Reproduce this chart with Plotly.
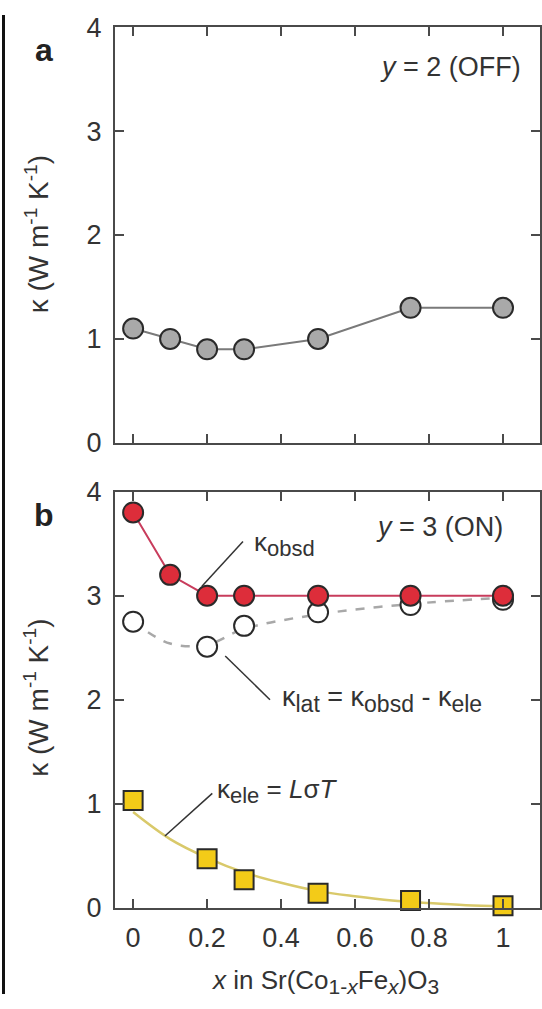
import plotly.graph_objects as go

# ---- data ----
x_a = [0, 0.1, 0.2, 0.3, 0.5, 0.75, 1.0]
kappa_off = [1.10, 1.00, 0.90, 0.90, 1.00, 1.30, 1.30]

x_obsd = [0, 0.1, 0.2, 0.3, 0.5, 0.75, 1.0]
kappa_obsd = [3.80, 3.20, 3.00, 3.00, 3.00, 3.00, 3.00]

x_lat = [0, 0.2, 0.3, 0.5, 0.75, 1.0]
kappa_lat = [2.75, 2.51, 2.71, 2.84, 2.91, 2.96]

x_lat_line = [0, 0.1, 0.2, 0.3, 0.5, 0.75, 1.0]
kappa_lat_line = [2.75, 2.54, 2.53, 2.68, 2.82, 2.92, 2.98]

x_ele = [0, 0.2, 0.3, 0.5, 0.75, 1.0]
kappa_ele = [1.03, 0.47, 0.27, 0.14, 0.07, 0.02]

x_fit = [0, 0.1, 0.2, 0.3, 0.4, 0.5, 0.6, 0.7, 0.8, 0.9, 1.0]
kappa_fit = [0.92, 0.66, 0.48, 0.34, 0.24, 0.16, 0.11, 0.07, 0.045, 0.025, 0.015]

x_ticks = [0, 0.2, 0.4, 0.6, 0.8, 1.0]
x_ticklabels = ["0", "0.2", "0.4", "0.6", "0.8", "1"]
y_ticks = [0, 1, 2, 3, 4]

FONT = "Arial, Liberation Sans, Helvetica, sans-serif"
AX = "#4a4a4a"
EDGE = "#2a2a2a"
TXT = "#333333"
W, H = 542, 1009


def fy(screen_px):
    """paper fraction for a vertical screen position (compensates page capture offset)"""
    return 1 - ((screen_px - 7.6) / 0.984) / H


def fx(px):
    return px / W


def sub(s, size=22):
    return f"<sub><span style='font-size:{size}px'>{s}</span></sub>"


def sup(s, size=19):
    return f"<sup><span style='font-size:{size}px'>{s}</span></sup>"


fig = go.Figure()

# panel a
fig.add_trace(go.Scatter(x=x_a, y=kappa_off, mode="lines+markers",
                         line=dict(color="#7a7a7a", width=2),
                         marker=dict(symbol="circle", size=20, color="#a9a9a9",
                                     line=dict(color=EDGE, width=2)),
                         xaxis="x", yaxis="y", cliponaxis=False, showlegend=False))

# panel b
fig.add_trace(go.Scatter(x=x_fit, y=kappa_fit, mode="lines", line_shape="spline",
                         line=dict(color="#d9c96a", width=2.5),
                         xaxis="x2", yaxis="y2", showlegend=False))
fig.add_trace(go.Scatter(x=x_lat_line, y=kappa_lat_line, mode="lines", line_shape="spline",
                         line=dict(color="#a8a8a8", width=2.5, dash="dash"),
                         xaxis="x2", yaxis="y2", showlegend=False))
fig.add_trace(go.Scatter(x=x_lat, y=kappa_lat, mode="markers",
                         marker=dict(symbol="circle", size=20, color="white",
                                     line=dict(color=EDGE, width=2)),
                         xaxis="x2", yaxis="y2", cliponaxis=False, showlegend=False))
fig.add_trace(go.Scatter(x=x_obsd, y=kappa_obsd, mode="lines+markers",
                         line=dict(color="#c83c5c", width=2),
                         marker=dict(symbol="circle", size=20, color="#dd2d3a",
                                     line=dict(color=EDGE, width=2)),
                         xaxis="x2", yaxis="y2", cliponaxis=False, showlegend=False))
fig.add_trace(go.Scatter(x=x_ele, y=kappa_ele, mode="markers",
                         marker=dict(symbol="square", size=19, color="#f3cb18",
                                     line=dict(color=EDGE, width=2)),
                         xaxis="x2", yaxis="y2", cliponaxis=False, showlegend=False))

common_x = dict(range=[-0.049, 1.1], tickvals=x_ticks, ticktext=x_ticklabels,
                ticks="inside", ticklen=9, tickwidth=2, tickcolor=AX,
                showline=True, linecolor=AX, linewidth=2, mirror="ticks",
                showgrid=False, zeroline=False, ticklabelstandoff=5,
                tickfont=dict(family=FONT, size=27, color=TXT))
common_y = dict(range=[0, 4], tickvals=y_ticks, ticks="inside", ticklen=9, tickwidth=2,
                tickcolor=AX, showline=True, linecolor=AX, linewidth=2, mirror="ticks",
                showgrid=False, zeroline=False, ticklabelstandoff=6,
                tickfont=dict(family=FONT, size=27, color=TXT))

xdom = [fx(115), fx(540)]
fig.update_layout(
    width=W, height=H,
    margin=dict(l=0, r=0, t=0, b=0),
    paper_bgcolor="white", plot_bgcolor="white",
    xaxis=dict(domain=xdom, anchor="y", showticklabels=False, **common_x),
    yaxis=dict(domain=[fy(441.5), fy(20)], anchor="x", **common_y),
    xaxis2=dict(domain=xdom, anchor="y2", showticklabels=True, **common_x),
    yaxis2=dict(domain=[fy(913), fy(491)], anchor="x2", **common_y),
    font=dict(family=FONT, color=TXT),
)

ann = []
# panel letters
for letter, py in (("a", 43), ("b", 515)):
    ann.append(dict(text=f"<b>{letter}</b>", x=fx(44), y=fy(py),
                    xref="paper", yref="paper", showarrow=False,
                    font=dict(family=FONT, size=32, color="#222"),
                    xanchor="center", yanchor="middle"))

texts = [
    dict(text="<i>y</i> = 2 (OFF)", x=1.055, y=3.62, xref="x", yref="y", xanchor="right",
         size=27),
    dict(text="<i>y</i> = 3 (ON)", x=1.005, y=3.66, xref="x2", yref="y2", xanchor="right",
         size=27),
    dict(text="κ" + sub("obsd"), x=0.322, y=3.5, xref="x2", yref="y2", xanchor="left",
         size=26),
    dict(text="κ" + sub("lat", 23) + " = κ" + sub("obsd", 23) + " - κ" + sub("ele", 23),
         x=0.397, y=2.0, xref="x2", yref="y2", xanchor="left", size=27),
    dict(text="κ" + sub("ele") + " = <i>L</i>σ<i>T</i>", x=0.222, y=1.12, xref="x2",
         yref="y2", xanchor="left", size=26),
]
for t in texts:
    size = t.pop("size")
    t.update(showarrow=False, font=dict(family=FONT, size=size, color=TXT), yanchor="middle")
    ann.append(t)

# axis titles
ytitle = "κ (W m" + sup("-1") + " K" + sup("-1") + ")"
for py in (230, 700):
    ann.append(dict(text=ytitle, x=fx(37), y=fy(py), xref="paper", yref="paper",
                    textangle=-90, showarrow=False,
                    font=dict(family=FONT, size=28, color=TXT),
                    xanchor="center", yanchor="middle"))
ann.append(dict(text="<i>x</i> in Sr(Co" + sub("1-<i>x</i>", 21) + "Fe" + sub("<i>x</i>", 21)
                + ")O" + sub("3", 21),
                x=fx(325), y=fy(988), xref="paper", yref="paper",
                showarrow=False, font=dict(family=FONT, size=26, color=TXT),
                xanchor="center", yanchor="middle"))
fig.update_layout(annotations=ann)

shapes = [
    dict(type="line", xref="x2", yref="y2", x0=0.186, y0=3.09, x1=0.297, y1=3.52,
         line=dict(color="#333", width=1.5)),
    dict(type="line", xref="x2", yref="y2", x0=0.249, y0=2.42, x1=0.370, y1=2.0,
         line=dict(color="#333", width=1.5)),
    dict(type="line", xref="x2", yref="y2", x0=0.086, y0=0.69, x1=0.214, y1=1.10,
         line=dict(color="#333", width=1.5)),
    dict(type="line", xref="paper", yref="paper", x0=fx(3.5), y0=0, x1=fx(3.5), y1=1,
         line=dict(color="#111", width=3)),
]
fig.update_layout(shapes=shapes)

post = (
    "document.documentElement.style.margin='0';"
    "document.body.style.margin='0';document.body.style.padding='0';"
    "document.body.style.overflow='hidden';"
)

fig.write_html("out.html", config={"displayModeBar": False}, post_script=post)
